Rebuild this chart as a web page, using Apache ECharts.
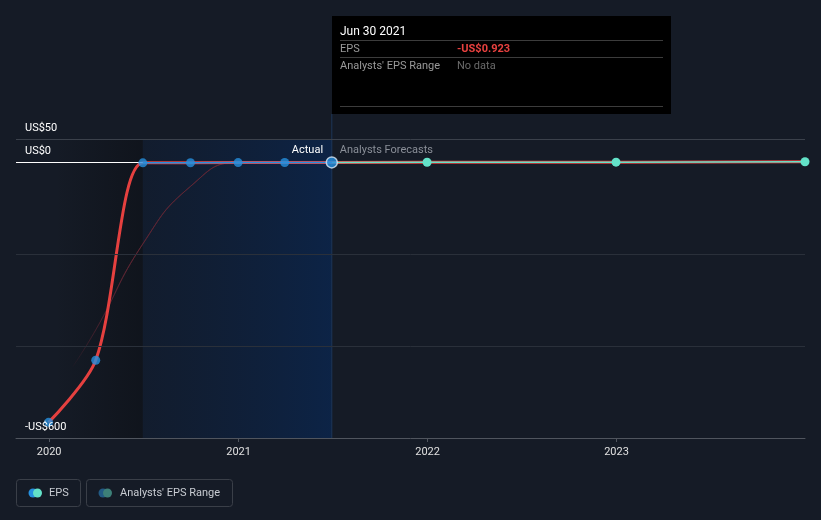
<!DOCTYPE html>
<html><head><meta charset="utf-8">
<script src="https://cdn.jsdelivr.net/npm/echarts@6/dist/echarts.min.js"></script>
<style>html,body{margin:0;padding:0;background:#151b26;}#c{width:821px;height:520px;}</style>
</head><body><div id="c"></div>
<script>
// ---- data ----
const actualDates = ['2019-12-31','2020-03-31','2020-06-30','2020-09-30','2020-12-31','2021-03-31','2021-06-30'];
const actualEps = [-566, -431, -1.9, -1.6, -1.3, -1.1, -0.923];
const forecastDates = ['2021-06-30','2021-12-31','2022-12-31','2023-12-31'];
const forecastEps = [-0.923, -0.6, -0.3, 0.5];
const trendDates = ['2020-02-15','2020-03-31','2020-06-30','2020-09-30','2020-12-31','2021-03-31'];
const trendValues = [-446, -365, -178, -53, -1, -1];
const xTickLabels = ['2020','2021','2022','2023'];
const yTickValues = [50, 0, -600];
const yTickLabels = ['US$50','US$0','-US$600'];
const yGridValues = [-200, -400];

const FONT = 'Roboto, "Noto Sans", sans-serif';
const ts = d => new Date(d + 'T00:00:00Z').getTime();
const xTickValues = xTickLabels.map(y => ts(y + '-01-01'));

const actualPts = actualDates.map((d,i)=>[ts(d), actualEps[i]]);
const forecastPts = forecastDates.map((d,i)=>[ts(d), forecastEps[i]]);
const turnTs = ts(actualDates[2]);
const steepRed = actualPts.slice(0, 4);                    // smoothed rise, shown up to the turn
const flatRed = actualPts.slice(2).concat(forecastPts.slice(1));

const chart = echarts.init(document.getElementById('c'), null, {renderer:'canvas'});
const option = {
  backgroundColor: '#151b26',
  animation: false,
  grid: {left: 16, right: 16, top: 139, bottom: 82},
  xAxis: {
    type: 'value',
    min: ts('2019-10-29'),
    max: ts('2023-12-31'),
    axisLine: {onZero: false, lineStyle: {color: '#50555e', width: 1}},
    axisTick: {show: true, customValues: xTickValues, length: 4, lineStyle: {color: '#50555e'}},
    axisLabel: {customValues: xTickValues, color: '#e0e0e0', fontSize: 11, fontFamily: FONT, margin: 9,
      formatter: v => xTickLabels[xTickValues.indexOf(v)] || String(new Date(v).getUTCFullYear())},
    splitLine: {show: false}
  },
  yAxis: {
    type: 'value', min: -600, max: 50,
    axisLine: {show: false}, axisTick: {show: false}, axisLabel: {show: false}, splitLine: {show: false}
  },
  series: [
    {
      type: 'line', name: 'trend', z: 1,
      data: trendDates.map((d,i)=>[ts(d), trendValues[i]]),
      smooth: 0.5, showSymbol: false, silent: true,
      lineStyle: {width: 1, color: {type:'linear', x:0, y:0, x2:1, y2:0, colorStops:[
        {offset:0, color:'rgba(100,38,52,0)'},{offset:0.25, color:'rgba(100,38,52,0.7)'},{offset:1, color:'rgba(100,38,52,0.85)'}]}},
      markArea: {
        silent: true,
        data: [
          [{xAxis: ts('2020-01-12'), itemStyle: {color: {type:'linear', x:0,y:0,x2:1,y2:0, colorStops:[
             {offset:0, color:'rgba(8,10,14,0)'},{offset:1, color:'rgba(8,10,14,0.4)'}]}}},
           {xAxis: ts('2020-06-30')}],
          [{xAxis: ts('2020-06-30'), itemStyle: {color: {type:'linear', x:0,y:0,x2:1,y2:0, colorStops:[
             {offset:0, color:'rgba(14,30,55,0.45)'},{offset:1, color:'rgba(12,36,72,0.95)'}]}}},
           {xAxis: ts('2021-06-30')}]
        ]
      },
      markLine: {
        silent: true, symbol: 'none', label: {show: false},
        data: [
          {yAxis: 50, lineStyle: {color: '#3b414b', width: 1, type: 'solid'}},
          ...yGridValues.map(v => ({yAxis: v, lineStyle: {color: '#2a303a', width: 1, type: 'solid'}})),
          [{coord: [ts('2019-10-29'), 0], lineStyle: {color: '#ffffff', width: 1, type: 'solid'}}, {coord: [turnTs, 0]}]
        ]
      }
    },
    {
      type: 'line', name: 'EPSredRise', z: 2, data: steepRed, smooth: 0.3,
      showSymbol: false, silent: true, lineStyle: {width: 3, color: '#e5403f'}
    },
    {
      type: 'line', name: 'EPSredFlat', z: 2, data: flatRed,
      showSymbol: false, silent: true, lineStyle: {color: '#e5403f', width: 3}
    },
    {
      type: 'line', name: 'EPSblue', z: 3, data: actualPts.slice(2),
      showSymbol: false, silent: true, lineStyle: {color: '#2590df', width: 1.5}
    },
    {
      type: 'line', name: 'Forecast', z: 3, data: forecastPts,
      symbol: 'circle', symbolSize: (v, p) => p.dataIndex === 0 ? 0 : 9, showAllSymbol: true,
      itemStyle: {color: '#63e2c8'}, lineStyle: {color: '#63e2c8', width: 1.5}, silent: true
    },
    {
      type: 'scatter', name: 'EPS', z: 5,
      data: actualPts.map((p,i)=>{
        const last = i === actualPts.length - 1;
        return {value: p, symbolSize: last ? 11 : 9,
          itemStyle: last ? {color: '#2590df', borderColor: '#dbe8f5', borderWidth: 1.5} : {color: '#2590df'}};
      }),
      silent: true
    }
  ]
};
chart.setOption(option);

// ---- overlay texts and shapes ----
const px = (t, v) => chart.convertToPixel({gridIndex: 0}, [t, v]);
const turnX = px(turnTs, 0)[0];
const W = 821;
const riseColor = {type:'linear', global: true, x: 0, y: 0, x2: W, y2: 0, colorStops: [
  {offset: 0, color: '#e5403f'}, {offset: (turnX + 0.5) / W, color: '#e5403f'},
  {offset: (turnX + 0.5) / W + 0.0001, color: 'rgba(229,64,63,0)'}, {offset: 1, color: 'rgba(229,64,63,0)'}]};

const g = [];
yTickValues.forEach((v,i)=>{
  const y = px(ts('2020-01-01'), v)[1];
  g.push({type:'text', left: 25, top: y - 16, z: 20, style:{text: yTickLabels[i], fill:'#ffffff', font: '11px ' + FONT}});
});
const splitX = px(ts('2021-06-30'), 0)[0];
g.push({type:'line', shape:{x1: splitX, y1: 114, x2: splitX, y2: 438}, style:{stroke:'#1d3658', lineWidth:1}, z: 1});
g.push({type:'text', left: splitX - 8 - 32, top: 145, z: 20, style:{text:'Actual', fill:'#ffffff', font:'11px ' + FONT, align:'left'}});
g.push({type:'text', left: splitX + 8, top: 145, z: 20, style:{text:'Analysts Forecasts', fill:'#8a8f98', font:'11px ' + FONT}});

// tooltip box
g.push({type:'rect', shape:{x:332, y:16, width:339, height:98}, style:{fill:'#000000'}, z: 10});
g.push({type:'text', left:340, top:26, z: 11, style:{text:'Jun 30 2021', fill:'#ffffff', font:'12px ' + FONT}});
[40, 57, 106].forEach(y => g.push({type:'line', z: 11, shape:{x1:340, y1:y+0.5, x2:663, y2:y+0.5}, style:{stroke:'#3c3c3c', lineWidth:1}}));
g.push({type:'text', left:340, top:44, z: 11, style:{text:'EPS', fill:'#9a9a9a', font:'11px ' + FONT}});
g.push({type:'text', left:457, top:44, z: 11, style:{text:'-US$0.923', fill:'#e8413f', font:'bold 11px ' + FONT}});
g.push({type:'text', left:340, top:61, z: 11, style:{text:"Analysts' EPS Range", fill:'#9a9a9a', font:'11px ' + FONT}});
g.push({type:'text', left:457, top:61, z: 11, style:{text:'No data', fill:'#6a6a6a', font:'11px ' + FONT}});

// legend
g.push({type:'rect', shape:{x:16.5, y:479.5, width:64, height:27, r:3}, style:{fill:'none', stroke:'#3a3f48', lineWidth:1}});
g.push({type:'circle', shape:{cx:33, cy:493, r:4.5}, style:{fill:'#2590df'}});
g.push({type:'circle', shape:{cx:37.5, cy:493, r:4.5}, style:{fill:'#63e2c8'}});
g.push({type:'text', left:49, top:488, style:{text:'EPS', fill:'#c8ccd2', font:'11px ' + FONT}});
g.push({type:'rect', shape:{x:86.5, y:479.5, width:146, height:27, r:3}, style:{fill:'none', stroke:'#3a3f48', lineWidth:1}});
g.push({type:'circle', shape:{cx:103, cy:493, r:4.5}, style:{fill:'#225a84'}});
g.push({type:'circle', shape:{cx:107.5, cy:493, r:4.5}, style:{fill:'#3d8078'}});
g.push({type:'text', left:120, top:488, style:{text:"Analysts' EPS Range", fill:'#c8ccd2', font:'11px ' + FONT}});

chart.setOption({graphic: g, series: [{}, {lineStyle: {color: riseColor}}]});
</script></body></html>
